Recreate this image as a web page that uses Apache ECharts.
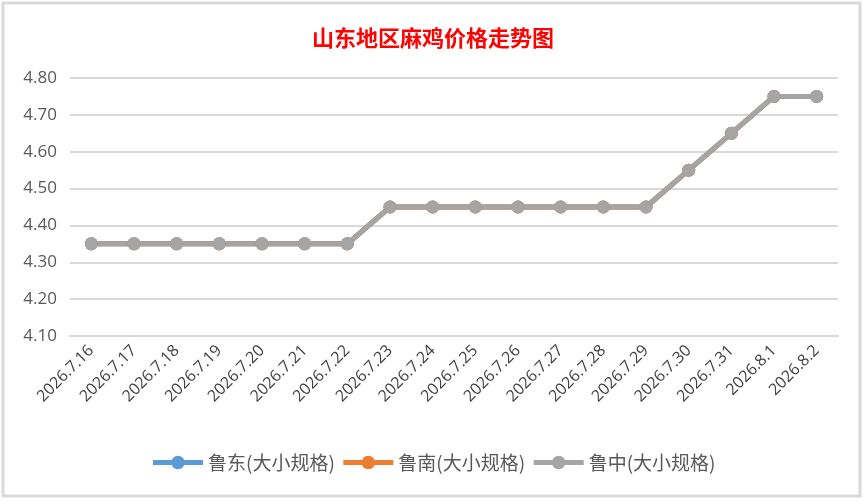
<!DOCTYPE html>
<html><head><meta charset="utf-8">
<script src="https://cdn.jsdelivr.net/npm/echarts@6/dist/echarts.min.js"></script>
<style>html,body{margin:0;padding:0;background:#fff}#c{width:866px;height:504px}</style>
</head><body><div id="c"></div>
<script>
const categories = ['2026.7.16','2026.7.17','2026.7.18','2026.7.19','2026.7.20','2026.7.21','2026.7.22','2026.7.23','2026.7.24','2026.7.25','2026.7.26','2026.7.27','2026.7.28','2026.7.29','2026.7.30','2026.7.31','2026.8.1','2026.8.2'];
const luDong = [4.35,4.35,4.35,4.35,4.35,4.35,4.35,4.45,4.45,4.45,4.45,4.45,4.45,4.45,4.55,4.65,4.75,4.75];
const luNan  = [4.35,4.35,4.35,4.35,4.35,4.35,4.35,4.45,4.45,4.45,4.45,4.45,4.45,4.45,4.55,4.65,4.75,4.75];
const luZhong= [4.35,4.35,4.35,4.35,4.35,4.35,4.35,4.45,4.45,4.45,4.45,4.45,4.45,4.45,4.55,4.65,4.75,4.75];
const seriesNames = ['鲁东(大小规格)','鲁南(大小规格)','鲁中(大小规格)'];
const colors = ['#5B9BD5','#ED7D31','#A5A5A5'];

const chart = echarts.init(document.getElementById('c'));
const mk = (name, data, color) => ({
  name, type: 'line', data, symbol: 'circle', symbolSize: 13,
  lineStyle: {color, width: 5}, itemStyle: {color}
});
chart.setOption({
  animation: false,
  color: colors,
  title: {
    text: '山东地区麻鸡价格走势图', left: 'center', top: 22,
    textStyle: {color: '#FF0000', fontSize: 22, fontWeight: 'bold', fontFamily: 'Noto Sans CJK SC'}
  },
  graphic: [{type: 'rect', shape: {x: 3, y: 3, width: 857, height: 493},
    style: {fill: 'none', stroke: '#D9D9D9', lineWidth: 3}, silent: true}],
  legend: {
    bottom: 27, left: 'center', itemWidth: 50, itemHeight: 17, itemGap: 6,
    lineStyle: {width: 5},
    textStyle: {color: '#595959', fontSize: 19, fontFamily: 'Noto Sans CJK SC'},
    data: seriesNames
  },
  grid: {left: 70, right: 28, top: 78, bottom: 168, containLabel: false},
  xAxis: {
    type: 'category', data: categories, boundaryGap: true,
    axisLine: {show: true, lineStyle: {color: '#D9D9D9', width: 2}},
    axisTick: {show: false},
    axisLabel: {rotate: 45, color: '#404040', fontSize: 16, margin: 12, interval: 0, fontFamily: 'Open Sans'}
  },
  yAxis: {
    type: 'value', min: 4.1, max: 4.8, interval: 0.1,
    axisLine: {show: false}, axisTick: {show: false},
    axisLabel: {color: '#595959', fontSize: 17, margin: 13, fontFamily: 'Open Sans',
      formatter: v => v.toFixed(2)},
    splitLine: {lineStyle: {color: '#D9D9D9', width: 2}}
  },
  series: [mk(seriesNames[0], luDong, colors[0]), mk(seriesNames[1], luNan, colors[1]), mk(seriesNames[2], luZhong, colors[2])]
});
</script></body></html>
